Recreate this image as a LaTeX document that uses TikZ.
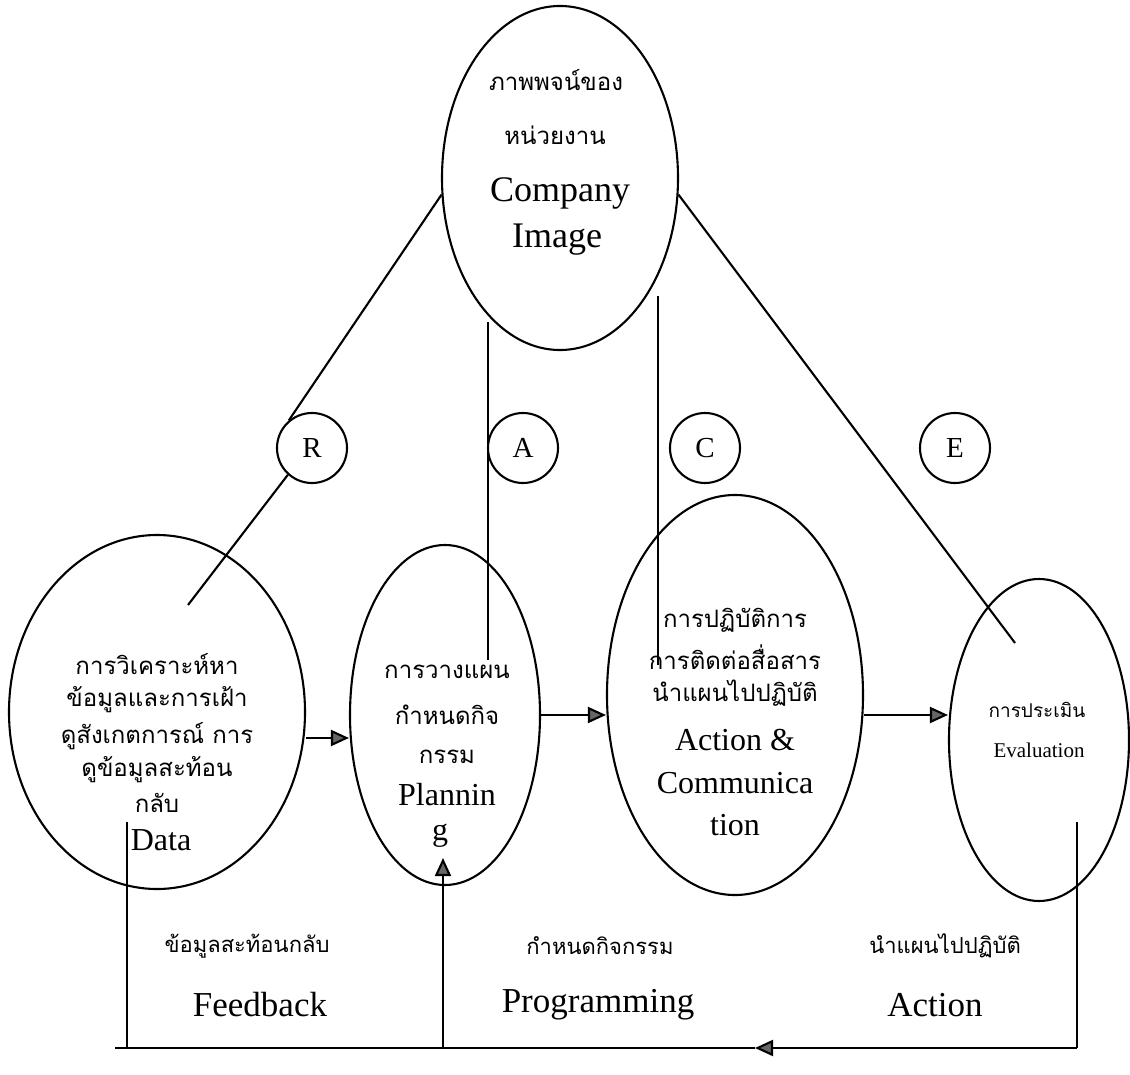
\documentclass[tikz,border=0pt]{standalone}
\usepackage{fontspec}
\setmainfont{Liberation Serif}
\newfontfamily\thai[Script=Thai]{Loma}
\usetikzlibrary{shapes.geometric,arrows.meta}
\begin{document}
\begin{tikzpicture}[x=1pt,y=-1pt,
  line width=2.1pt,
  oval/.style={draw,ellipse,inner sep=0pt},
  letter/.style={draw,circle,minimum size=70pt,inner sep=0pt,font=\fontsize{29}{29}\selectfont},
  lbl/.style={inner sep=0pt},
  th/.style={lbl,font=\thai\fontsize{24}{24}\selectfont},
  en/.style={lbl,font=\fontsize{36}{36}\selectfont},
  mid/.style={lbl,font=\fontsize{32}{32}\selectfont},
  tip/.style={-{Triangle[length=18pt,width=16pt,fill=gray!80!black]}}]
\useasboundingbox (0,0) rectangle (1130,1075);
\fill[white] (0,0) rectangle (1130,1075);

% main ovals
\node[oval,minimum width=236pt,minimum height=344pt] (img)  at (560,178) {};
\node[oval,minimum width=296pt,minimum height=354pt] (data) at (157,712) {};
\node[oval,minimum width=190pt,minimum height=340pt] (plan) at (445,715) {};
\node[oval,minimum width=256pt,minimum height=400pt] (act)  at (735,695) {};
\node[oval,minimum width=180pt,minimum height=322pt] (eval) at (1039,740) {};

% RACE circles
\node[letter] (R) at (312,448) {R};
\node[letter] (A) at (523,448) {A};
\node[letter] (C) at (705,448) {C};
\node[letter] (E) at (955,448) {E};

% texts inside the ovals
\node[th] (t1) at (556,80)  {ภาพพจน์ของ};
\node[th] (t2) at (555,135) {หน่วยงาน};
\node[en] (t3) at (560,193) {Company};
\node[en] (t4) at (557,240) {Image};

\node[th] (d1) at (157,664) {การวิเคราะห์หา};
\node[th] (d2) at (157,700) {ข้อมูลและการเฝ้า};
\node[th] (d3) at (157,736) {ดูสังเกตการณ์ การ};
\node[th] (d4) at (157,770) {ดูข้อมูลสะท้อน};
\node[th] (d5) at (157,803) {กลับ};
\node[mid] (d6) at (161,840) {Data};

\node[th] (p1) at (447,672) {การวางแผน};
\node[th] (p2) at (447,715) {กำหนดกิจ};
\node[th] (p3) at (447,757) {กรรม};
\node[mid] (p4) at (447,795) {Plannin};
\node[mid] (p5) at (440,836) {g};

\node[th] (a1) at (735,620) {การปฏิบัติการ};
\node[th] (a2) at (735,657) {การติดต่อสื่อสาร};
\node[th] (a3) at (735,693) {นำแผนไปปฏิบัติ};
\node[mid] (a4) at (735,740) {Action \&};
\node[mid] (a5) at (735,783) {Communica};
\node[mid] (a6) at (735,825) {tion};

\node[th,font=\thai\fontsize{19}{19}\selectfont] (e1) at (1037,710) {การประเมิน};
\node[lbl,font=\fontsize{21}{21}\selectfont] (e2) at (1039,750) {Evaluation};

% labels under the ovals
\node[th,font=\thai\fontsize{22}{22}\selectfont] (f1) at (247,946)  {ข้อมูลสะท้อนกลับ};
\node[en,font=\fontsize{35}{35}\selectfont] (f2) at (260,1005) {Feedback};
\node[th,font=\thai\fontsize{22}{22}\selectfont] (g1) at (600,946)  {กำหนดกิจกรรม};
\node[en,font=\fontsize{35}{35}\selectfont] (g2) at (598,1005) {Programming};
\node[th,font=\thai\fontsize{22}{22}\selectfont] (h1) at (945,946)  {นำแผนไปปฏิบัติ};
\node[en,font=\fontsize{35}{35}\selectfont] (h2) at (935,1005) {Action};

% free ends of the spokes
\coordinate (rin)  at (188,605);
\coordinate (atop) at (488,322);
\coordinate (ain)  at (488,660);
\coordinate (ctop) at (658,296);
\coordinate (cin)  at (658,665);
\coordinate (ein)  at (1015,643);

% spokes from the company image
\draw (img.188) -- (R.130);
\draw (R.228) -- (rin);
\draw (atop) -- (ain);
\draw (ctop) -- (cin);
\draw (img.-8) -- (ein);

% process arrows
\draw[tip] (data.east |- 0,738) -- (plan.west |- 0,738);
\draw[tip] (plan.east |- 0,715) -- (act.west |- 0,715);
\draw[tip] (act.east |- 0,715) -- (eval.west |- 0,715);

% feedback loop along the bottom
\coordinate (dfoot) at (127,822);
\coordinate (efoot) at (1077,822);
\coordinate (br) at (1077,1048);
\coordinate (bl) at (115,1048);
\coordinate (bd) at (127,1048);
\coordinate (bm) at (755,1048);
\coordinate (pb) at (443,1048);
\coordinate (pin) at (443,858);
\draw (dfoot) -- (bd);
\draw (efoot) -- (br);
\draw[tip] (br) -- (bm);
\draw (bm) -- (bl);
\draw[tip] (pb) -- (pin);
\end{tikzpicture}
\end{document}
